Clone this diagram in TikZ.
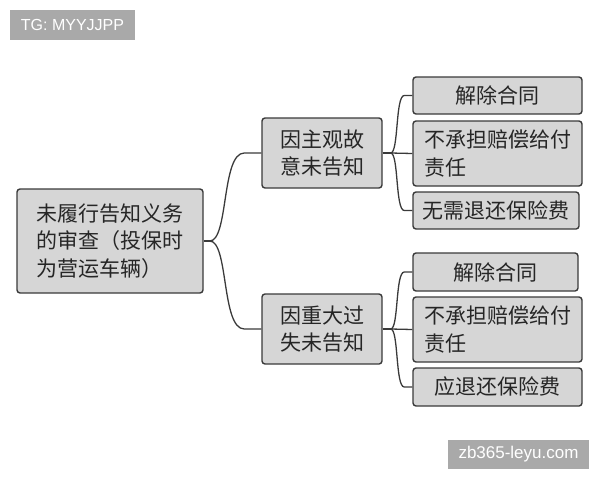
\documentclass[tikz,border=0pt]{standalone}
\usepackage{fontspec}
\setmainfont{Liberation Sans}
\newfontfamily\cjk{Noto Sans CJK SC}
\definecolor{boxfill}{HTML}{D6D6D6}
\definecolor{boxline}{HTML}{3A3A3A}
\definecolor{wmfill}{HTML}{A9A9A9}
\tikzset{
  mbox/.style={draw=boxline, fill=boxfill, line width=1.4pt, rounded corners=3pt,
    inner sep=0pt, font=\cjk\fontsize{21}{27.5}\selectfont, text=black!85},
  conn/.style={draw=boxline, line width=1.3pt},
  wmark/.style={fill=wmfill, text=white, inner sep=0pt}
}
\begin{document}
\begin{tikzpicture}[x=1pt,y=-1pt]
\useasboundingbox (0,0) rectangle (600,480);
% watermarks
\node[wmark, minimum width=125pt, minimum height=30pt, font=\fontsize{16}{18}\selectfont] (tg) at (72.5,25) {TG: MYYJJPP};
\node[wmark, minimum width=141pt, minimum height=29pt, font=\fontsize{17}{19}\selectfont] (wm) at (518.5,454.5) {zb365-leyu.com};
% root
\node[mbox, minimum width=186pt, minimum height=104pt, align=left] (root) at (110,241)
  {未履行告知义务\\的审查（投保时\\为营运车辆）};
% middle
\node[mbox, minimum width=120pt, minimum height=70pt, align=center] (m1) at (322,153) {因主观故\\意未告知};
\node[mbox, minimum width=120pt, minimum height=70pt, align=center] (m2) at (322,329) {因重大过\\失未告知};
% leaves top
\node[mbox, minimum width=169pt, minimum height=37pt] (a1) at (497.5,95.5) {解除合同};
\node[mbox, minimum width=169pt, minimum height=65pt, align=left] (a2) at (497.5,153.5) {不承担赔偿给付\\责任};
\node[mbox, minimum width=166pt, minimum height=37pt] (a3) at (496,210.5) {无需退还保险费};
% leaves bottom
\node[mbox, minimum width=165pt, minimum height=38pt] (b1) at (495.5,272) {解除合同};
\node[mbox, minimum width=169pt, minimum height=65pt, align=left] (b2) at (497.5,329.5) {不承担赔偿给付\\责任};
\node[mbox, minimum width=169pt, minimum height=38pt] (b3) at (497.5,387) {应退还保险费};
% connectors root -> middle
\draw[conn] (root.east) -- ++(6,0) coordinate (r0);
\draw[conn] (r0) .. controls +(19,0) and +(-23,0) .. ([xshift=-17pt]m1.west) -- (m1.west);
\draw[conn] (r0) .. controls +(19,0) and +(-23,0) .. ([xshift=-17pt]m2.west) -- (m2.west);
% middle -> leaves
\draw[conn] (m1.east) -- ++(8,0) coordinate (p1);
\draw[conn] (p1) .. controls +(8,0) and +(-9,0) .. ([xshift=-8pt]a1.west) -- (a1.west);
\draw[conn] (p1) -- (a2.west);
\draw[conn] (p1) .. controls +(8,0) and +(-9,0) .. ([xshift=-8pt]a3.west) -- (a3.west);
\draw[conn] (m2.east) -- ++(8,0) coordinate (p2);
\draw[conn] (p2) .. controls +(8,0) and +(-9,0) .. ([xshift=-8pt]b1.west) -- (b1.west);
\draw[conn] (p2) -- (b2.west);
\draw[conn] (p2) .. controls +(8,0) and +(-9,0) .. ([xshift=-8pt]b3.west) -- (b3.west);
\end{tikzpicture}
\end{document}
